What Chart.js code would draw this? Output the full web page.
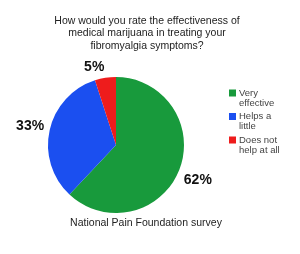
<!DOCTYPE html>
<html>
<head>
<meta charset="utf-8">
<script src="https://cdn.jsdelivr.net/npm/chart.js@4"></script>
<style>
  html, body { margin: 0; padding: 0; background: #fff; }
  #wrap { width: 300px; height: 254px; position: relative; }
</style>
</head>
<body>
<div id="wrap"><canvas id="myChart"></canvas></div>
<script>
// ================= Data =================
const categories = ['Very effective', 'Helps a little', 'Does not help at all'];
const legendLines = [['Very', 'effective'], ['Helps a', 'little'], ['Does not', 'help at all']];
const shares = [62, 33, 5];
const sliceColors = ['#189a3c', '#1b4ff0', '#ee1c1c'];
const titleLines = ['How would you rate the effectiveness of', 'medical marijuana in treating your', 'fibromyalgia symptoms?'];
const sourceNote = 'National Pain Foundation survey';

// ================= Extra text (title, % labels, legend) =================
const decor = {
  id: 'decor',
  afterDraw(chart) {
    const c = chart.ctx;
    c.save();
    c.fillStyle = '#222';
    c.textAlign = 'center';
    c.textBaseline = 'middle';
    c.font = '10.5px "Liberation Sans", Arial, sans-serif';
    titleLines.forEach((t, i) => c.fillText(t, 147, 21 + i * 12.5));
    c.fillText(sourceNote, 146, 223);

    // percent labels outside the slices
    const meta = chart.getDatasetMeta(0);
    const offsets = [[0, 3], [0, 0], [-8, 9]];
    c.font = 'bold 14px "Liberation Sans", Arial, sans-serif';
    c.fillStyle = '#111';
    meta.data.forEach((arc, i) => {
      const mid = (arc.startAngle + arc.endAngle) / 2;
      const r = arc.outerRadius + 20;
      const x = arc.x + Math.cos(mid) * r + offsets[i][0];
      const y = arc.y + Math.sin(mid) * r + offsets[i][1];
      c.fillText(shares[i] + '%', x, y);
    });

    // legend
    c.textAlign = 'left';
    c.font = '9.5px "Liberation Sans", Arial, sans-serif';
    legendLines.forEach((lines, i) => {
      const y0 = 93 + i * 23.5;
      c.fillStyle = sliceColors[i];
      c.fillRect(229, y0 - 3.5, 7, 7);
      c.fillStyle = '#444';
      lines.forEach((l, j) => c.fillText(l, 239, y0 + j * 10));
    });
    c.restore();
  }
};

const ctx = document.getElementById('myChart');
new Chart(ctx, {
  type: 'pie',
  data: {
    labels: categories,
    datasets: [{
      data: shares,
      backgroundColor: sliceColors,
      borderWidth: 0
    }]
  },
  options: {
    responsive: true,
    maintainAspectRatio: false,
    animation: false,
    layout: {
      padding: { left: 48, right: 116, top: 77, bottom: 41 }
    },
    plugins: {
      legend: { display: false },
      tooltip: { enabled: false }
    }
  },
  plugins: [decor]
});
</script>
</body>
</html>
